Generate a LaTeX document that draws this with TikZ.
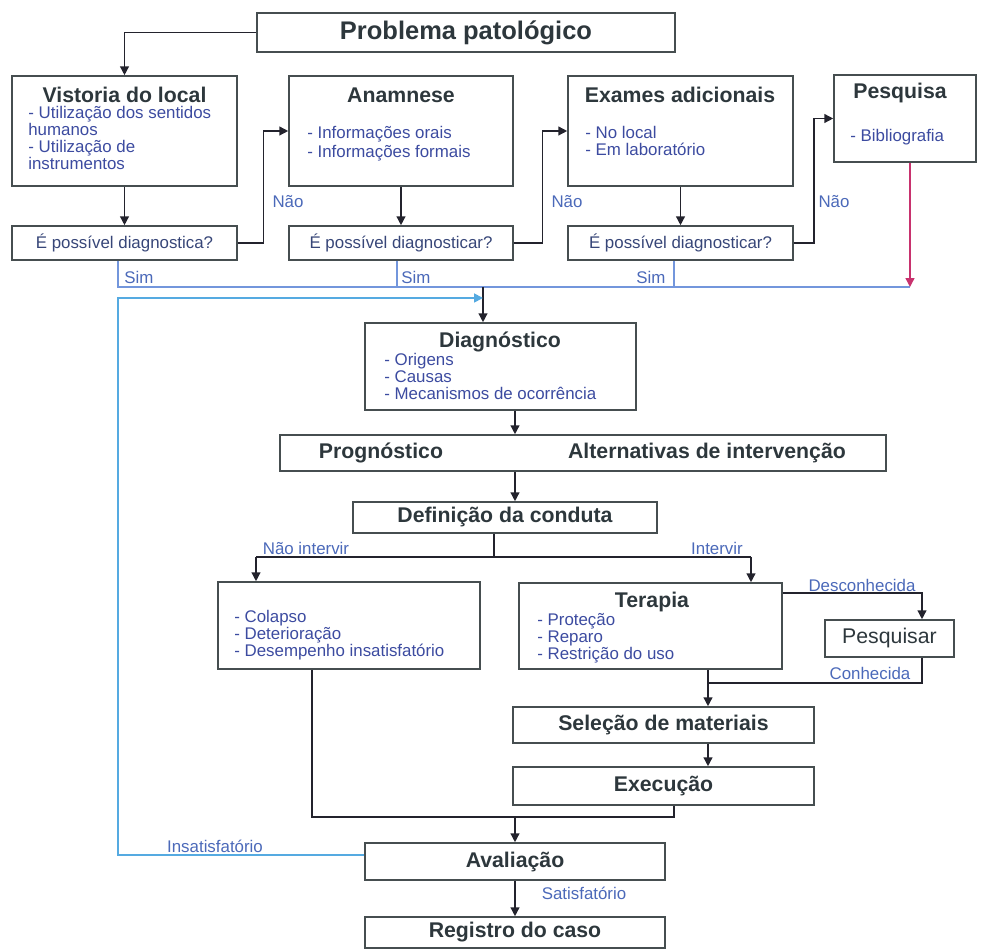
\documentclass[tikz,border=0pt]{standalone}
\usepackage{fontspec}
\setmainfont{Liberation Sans}
\usetikzlibrary{arrows.meta,fit}
\definecolor{boxcol}{RGB}{70,78,80}
\definecolor{titcol}{RGB}{45,55,60}
\definecolor{itmcol}{RGB}{60,75,160}
\definecolor{qcol}{RGB}{55,70,120}
\definecolor{lblcol}{RGB}{75,105,185}
\definecolor{simcol}{RGB}{115,150,220}
\definecolor{insatcol}{RGB}{85,170,225}
\definecolor{pescol}{RGB}{200,50,110}
\definecolor{lincol}{RGB}{35,35,45}
\tikzset{
  box/.style={draw=boxcol,line width=.9pt,inner sep=0pt},
  tit/.style={font=\fontsize{12.1}{14}\selectfont\bfseries,text=titcol,inner sep=0pt},
  itm/.style={font=\fontsize{9.6}{9.7}\selectfont,text=itmcol,align=left,anchor=north west,inner sep=0pt},
  quest/.style={font=\fontsize{9.6}{10}\selectfont,text=qcol,inner sep=0pt},
  lbl/.style={font=\fontsize{9.6}{10}\selectfont,text=lblcol,inner sep=0pt},
  seta/.style={draw=lincol,line width=.8pt,-{Triangle[length=5pt,width=5pt]}},
  linha/.style={draw=lincol,line width=.8pt},
}
\begin{document}
\begin{tikzpicture}[x=.2mm,y=-.2mm]
\useasboundingbox (0,0) rectangle (981,950);
\node[box,fit={(257,13) (675,52)}] (prob) {};
\node[box,fit={(12,76) (237,186)}] (vist) {};
\node[box,fit={(289,76) (513,186)}] (anam) {};
\node[box,fit={(568,76) (793,186)}] (exam) {};
\node[box,fit={(834,75) (976,162)}] (pesq) {};
\node[box,fit={(12,226) (237,260)}] (q1) {};
\node[box,fit={(289,226) (513,260)}] (q2) {};
\node[box,fit={(568,226) (793,260)}] (q3) {};
\node[tit,font=\fontsize{14.5}{17}\selectfont\bfseries] (prob-t) at (prob) {Problema patológico};
\node[quest] (q1-t) at (q1) {É possível diagnostica?};
\node[quest] (q2-t) at (q2) {É possível diagnosticar?};
\node[quest] (q3-t) at (q3) {É possível diagnosticar?};
\node[tit] (vist-t) at (124.5,95) {Vistoria do local};
\node[tit] (anam-t) at (401,95) {Anamnese};
\node[tit] (exam-t) at (680,95) {Exames adicionais};
\node[tit,anchor=west] (pesq-t) at (853,93) {Pesquisa};
\node[itm] (vist-i) at (28,106) {- Utilização dos sentidos\\humanos\\- Utilização de\\instrumentos};
\node[itm,font=\fontsize{9.6}{10.6}\selectfont] (anam-i) at (307,126) {- Informações orais\\- Informações formais};
\node[itm] (exam-i) at (585,126) {- No local\\- Em laboratório};
\node[itm] (pesq-i) at (850,129) {- Bibliografia};

\node[box,fit={(365,323) (636,410)}] (diag) {};
\node[tit] (diag-t) at (500,342) {Diagnóstico};
\node[itm] (diag-i) at (384,353) {- Origens\\- Causas\\- Mecanismos de ocorrência};
\node[box,fit={(280,435) (886,471)}] (prog) {};
\node[tit] (prog-t) at (381,453) {Prognóstico};
\node[tit] (alt-t) at (707,453) {Alternativas de intervenção};
\node[box,fit={(353,502) (657,533)}] (def) {};
\node[tit] (def-t) at (def) {Definição da conduta};
\node[box,fit={(218,582) (480,669)}] (nint) {};
\node[itm] (nint-i) at (234,610) {- Colapso\\- Deterioração\\- Desempenho insatisfatório};
\node[box,fit={(519,583) (782,669)}] (ter) {};
\node[tit] (ter-t) at (652,602) {Terapia};
\node[itm] (ter-i) at (537,613) {- Proteção\\- Reparo\\- Restrição do uso};
\node[box,fit={(825,620) (954,657)}] (pesqr) {};
\node[tit,font=\fontsize{12.1}{14}\selectfont] (pesqr-t) at (pesqr) {Pesquisar};
\node[box,fit={(513,707) (814,743)}] (sel) {};
\node[tit] (sel-t) at (sel) {Seleção de materiais};
\node[box,fit={(513,767) (814,805)}] (exe) {};
\node[tit] (exe-t) at (exe) {Execução};
\node[box,fit={(365,843) (665,880)}] (aval) {};
\node[tit] (aval-t) at (aval) {Avaliação};
\node[box,fit={(365,917) (665,948)}] (reg) {};
\node[tit] (reg-t) at (reg) {Registro do caso};

\coordinate (s1) at (118,287);
\coordinate (s2) at (397,287);
\coordinate (s3) at (674,287);
\coordinate (s4) at (910,287);
\coordinate (j1) at (483,287);
\coordinate (f0) at (118,855);
\coordinate (f1) at (118,298);
\coordinate (b0) at (494,557);
\coordinate (b1) at (256,557);
\coordinate (b2) at (751,557);
\coordinate (d1) at (922,593);
\coordinate (k1) at (708,683);
\coordinate (m1) at (312,817);
\coordinate (m2) at (674,817);

\draw[seta] (prob.west) -| (vist.north);
\draw[seta] (vist) -- (q1);
\draw[seta] (anam) -- (q2);
\draw[seta] (exam) -- (q3);
\draw[seta] (q1.east) -- ++(26,0) |- (anam.west);
\draw[seta] (q2.east) -- ++(29,0) |- (exam.west);
\draw[seta] (q3.east) -- ++(20,0) |- (pesq.west);
\draw[draw=simcol,line width=1pt] (q1.south -| s1) -- (s1) -- (s4) (q2.south -| s2) -- (s2) (q3.south -| s3) -- (s3);
\draw[seta,draw=pescol] (pesq.south -| s4) -- (s4);
\draw[seta] (j1) -- (diag.north -| j1);
\draw[seta,draw=insatcol,line width=1pt] (aval.west |- f0) -- (f0) -- (f1) -- (j1 |- f1);
\draw[seta] (diag.south -| aval) -- (prog.north -| aval);
\draw[seta] (prog.south -| aval) -- (def.north -| aval);
\draw[linha] (def.south -| b0) -- (b0) (b1) -- (b2);
\draw[seta] (b1) -- (nint.north -| b1);
\draw[seta] (b2) -- (ter.north -| b2);
\draw[seta] (ter.east |- d1) -- (d1) -- (pesqr.north -| d1);
\draw[linha] (pesqr.south -| d1) |- (k1);
\draw[seta] (ter.south -| k1) -- (sel.north -| k1);
\draw[seta] (sel.south -| k1) -- (exe.north -| k1);
\draw[linha] (nint.south -| m1) -- (m1) -- (m2) -- (exe.south -| m2);
\draw[seta] (m1 -| aval) -- (aval.north);
\draw[seta] (aval) -- (reg);

\node[lbl] (nao1) at (288,202) {Não};
\node[lbl] (nao2) at (567,202) {Não};
\node[lbl] (nao3) at (834,202) {Não};
\node[lbl] (sim1) at (139,277) {Sim};
\node[lbl] (sim2) at (416,277) {Sim};
\node[lbl] (sim3) at (651,277) {Sim};
\node[lbl] (nint-l) at (306,548) {Não intervir};
\node[lbl] (int-l) at (717,548) {Intervir};
\node[lbl] (desc-l) at (862,585) {Desconhecida};
\node[lbl] (conh-l) at (870,673) {Conhecida};
\node[lbl] (insat-l) at (215,846) {Insatisfatório};
\node[lbl] (sat-l) at (584,893) {Satisfatório};
\end{tikzpicture}
\end{document}
